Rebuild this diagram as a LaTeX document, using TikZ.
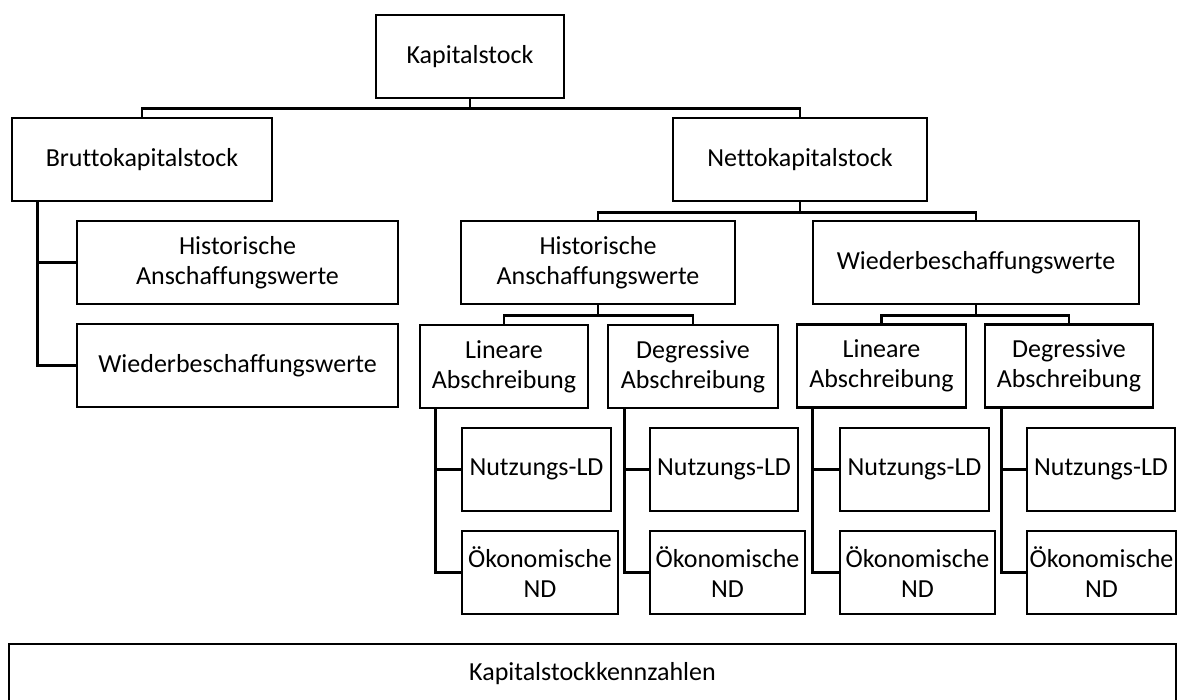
\documentclass[tikz,border=0pt]{standalone}
\usepackage{fontspec}
\setmainfont[Ligatures=NoCommon]{Carlito}
\begin{document}
\begin{tikzpicture}[x=1pt,y=-1pt,
  box/.style={draw=black, line width=2.8pt, inner sep=0pt, align=center,
    font=\fontsize{26}{30}\selectfont, fill=white, minimum height=83pt},
  conn/.style={draw=black, line width=2.8pt, line join=miter}]
\path[use as bounding box] (0,0) rectangle (1177,700);
\clip (0,0) rectangle (1177,700);

% level 0
\node[box, minimum width=188pt] (K) at (470,56.5) {Kapitalstock};
% level 1
\node[box, minimum width=260pt] (B) at (142,159.5) {Bruttokapitalstock};
\node[box, minimum width=254pt] (N) at (800,159.5) {Nettokapitalstock};
% Brutto children
\node[box, minimum width=321pt] (HL) at (237.5,262.5) {Historische\\Anschaffungswerte};
\node[box, minimum width=321pt] (WL) at (237.5,365.5) {Wiederbeschaffungswerte};
% Netto children
\node[box, minimum width=274pt] (HR) at (598,262.5) {Historische\\Anschaffungswerte};
\node[box, minimum width=326pt] (WR) at (976,262.5) {Wiederbeschaffungswerte};
% Abschreibung level
\node[box, minimum width=168pt] (L1) at (504,366.5) {Lineare\\Abschreibung};
\node[box, minimum width=170pt] (D1) at (693,366.5) {Degressive\\Abschreibung};
\node[box, minimum width=169pt] (L2) at (881.5,366) {Lineare\\Abschreibung};
\node[box, minimum width=168pt] (D2) at (1069,366) {Degressive\\Abschreibung};
% Nutzungs-LD
\node[box, minimum width=149pt] (N1) at (536.5,469.5) {Nutzungs-LD};
\node[box, minimum width=148pt] (N2) at (724,469.5) {Nutzungs-LD};
\node[box, minimum width=149pt] (N3) at (914.5,469.5) {Nutzungs-LD};
\node[box, minimum width=148pt] (N4) at (1101,469.5) {Nutzungs-LD};
% Oekonomische ND
\node[box, minimum width=156pt] (O1) at (540,572.5) {Ökonomische\\ND};
\node[box, minimum width=155pt] (O2) at (727.5,572.5) {Ökonomische\\ND};
\node[box, minimum width=155pt] (O3) at (917.5,572.5) {Ökonomische\\ND};
\node[box, minimum width=149pt] (O4) at (1101.5,572.5) {Ökonomische\\ND};
% bottom bar
\node[box, minimum width=1167pt, minimum height=60pt] (KZ) at (592.5,674) {Kapitalstockkennzahlen};

% connectors
\draw[conn] (K.south) -- ++(0,9) -| (B.north);
\draw[conn] (K.south) -- ++(0,9) -| (N.north);

\coordinate (bt) at ([xshift=27pt]B.south west);
\draw[conn] (bt) |- (HL.west);
\draw[conn] (bt) |- (WL.west);

\draw[conn] (N.south) -- ++(0,10) -| (HR.north);
\draw[conn] (N.south) -- ++(0,10) -| (WR.north);

\draw[conn] (HR.south) -- ++(0,10) -| (L1.north);
\draw[conn] (HR.south) -- ++(0,10) -| (D1.north);
\draw[conn] (WR.south) -- ++(0,10) -| (L2.north);
\draw[conn] (WR.south) -- ++(0,10) -| (D2.north);

\coordinate (t1) at ([xshift=17pt]L1.south west);
\coordinate (t2) at ([xshift=18pt]D1.south west);
\coordinate (t3) at ([xshift=17pt]L2.south west);
\coordinate (t4) at ([xshift=18pt]D2.south west);
\draw[conn] (t1) |- (N1.west);
\draw[conn] (t1) |- (O1.west);
\draw[conn] (t2) |- (N2.west);
\draw[conn] (t2) |- (O2.west);
\draw[conn] (t3) |- (N3.west);
\draw[conn] (t3) |- (O3.west);
\draw[conn] (t4) |- (N4.west);
\draw[conn] (t4) |- (O4.west);
\end{tikzpicture}
\end{document}
